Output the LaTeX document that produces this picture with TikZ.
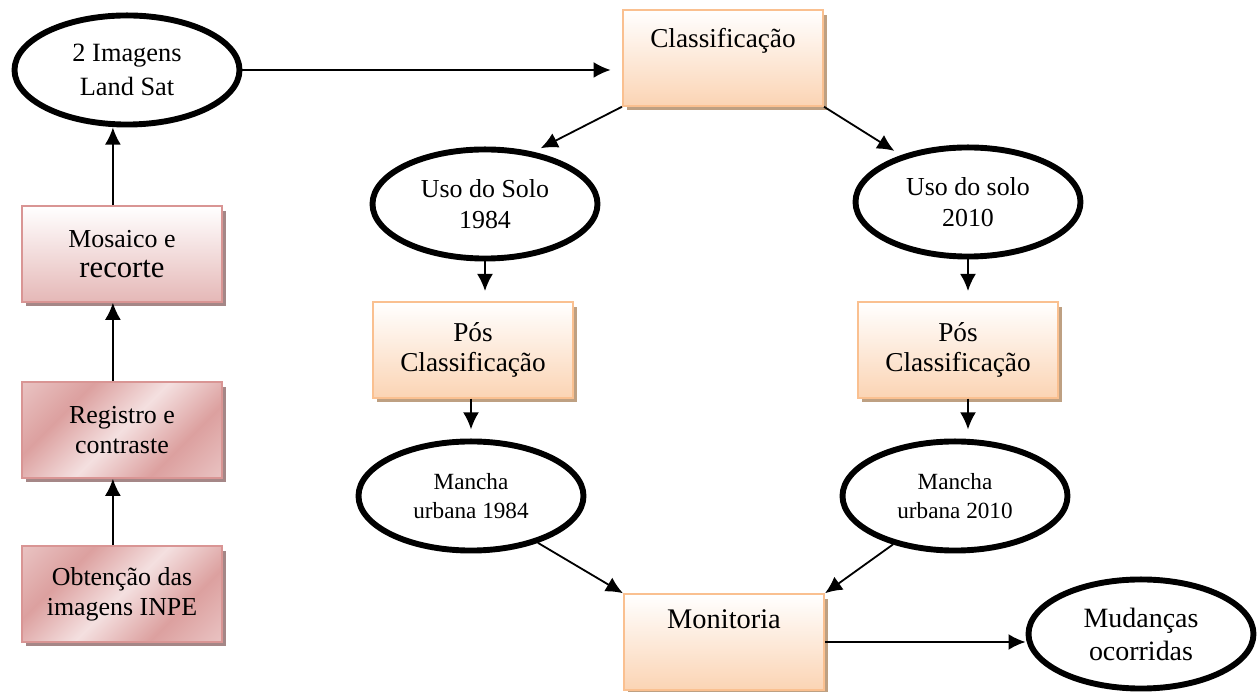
\documentclass[tikz,border=0pt]{standalone}
\usepackage{fontspec}
\setmainfont{Liberation Serif}
\usetikzlibrary{arrows.meta, shapes.geometric, shadows}

\definecolor{pinkline}{RGB}{217,149,148}
\definecolor{pinkdark}{RGB}{220,160,159}
\definecolor{pinklight}{RGB}{244,224,224}
\definecolor{pinkbottom}{RGB}{229,184,183}
\definecolor{orangeline}{RGB}{250,192,144}
\definecolor{orangefill}{RGB}{251,212,180}
\definecolor{pinkshadow}{RGB}{165,135,135}
\definecolor{orangeshadow}{RGB}{190,160,130}

\pgfdeclarehorizontalshading{pinkbands}{100bp}{color(0bp)=(pinklight); color(32bp)=(pinkdark); color(50bp)=(pinklight); color(68bp)=(pinkdark); color(100bp)=(pinklight)}

\tikzset{
    oval/.style={ellipse, draw, line width=2.6pt, fill=white, minimum width=99pt, minimum height=48pt, inner sep=0pt, align=center, font=\fontsize{11.4}{13.8}\selectfont},
    pinkbox/.style={rectangle, draw=pinkline, line width=0.9pt, minimum width=88pt, minimum height=42pt, align=center, font=\fontsize{11.4}{13.2}\selectfont, drop shadow={shadow xshift=1.6pt, shadow yshift=-2pt, fill=pinkshadow, opacity=1}},
    bandbox/.style={pinkbox, shade, shading=pinkbands, shading angle=-45},
    fadebox/.style={pinkbox, top color=white, bottom color=pinkbottom},
    orangebox/.style={rectangle, draw=orangeline, line width=0.9pt, top color=white, bottom color=orangefill, minimum width=88pt, minimum height=42pt, align=center, font=\fontsize{12}{13.2}\selectfont, drop shadow={shadow xshift=1.6pt, shadow yshift=-2pt, fill=orangeshadow, opacity=1}},
    arr/.style={-{Latex[length=7.5pt, width=7pt]}, line width=0.8pt}
}

\begin{document}
\begin{tikzpicture}[x=0.44pt, y=-0.44pt]
    \useasboundingbox (0,0) rectangle (1257,692);

    \node[oval, font=\fontsize{11.6}{15}\selectfont] (land) at (127,70) {2 Imagens\\Land Sat};
    \node[fadebox] (mos) at (122,254) {Mosaico e\\{\fontsize{13.5}{14}\selectfont recorte}};
    \node[bandbox] (reg) at (122,430) {Registro e\\contraste};
    \node[bandbox] (obt) at (122,594) {Obtenção das\\imagens INPE};

    \node[orangebox] (cls) at (723,58) {};
    \node[anchor=north, inner sep=0pt, font=\fontsize{12}{13}\selectfont] (clstext) at ([yshift=-8pt]cls.north) {Classificação};

    \node[oval] (uso84) at (485,204) {Uso do Solo\\1984};
    \node[oval] (uso10) at (968,202) {Uso do solo\\2010};
    \node[orangebox] (pos84) at (473,350) {Pós\\Classificação};
    \node[orangebox] (pos10) at (958,350) {Pós\\Classificação};
    \node[oval, font=\fontsize{10.2}{12.5}\selectfont] (man84) at (471,496) {Mancha\\urbana 1984};
    \node[oval, font=\fontsize{10.2}{12.5}\selectfont] (man10) at (955,496) {Mancha\\urbana 2010};

    \node[orangebox] (mon) at (724,642) {};
    \node[anchor=north, inner sep=0pt, font=\fontsize{12.5}{13}\selectfont] (montext) at ([yshift=-7pt]mon.north) {Monitoria};
    \node[oval, font=\fontsize{12.3}{14.5}\selectfont] (mud) at (1141,634) {Mudanças\\ocorridas};

    \foreach \from/\to in {obt/reg, reg/mos}
        \draw[arr] ([xshift=-4pt]\from.north) -- ([xshift=-4pt]\to.south);
    \draw[arr] ([xshift=-4pt]mos.north) -- ([xshift=-4pt]mos.north |- land.south);
    \draw[arr, shorten >=5pt] (land.east) -- (land.east -| cls.west);

    \draw[arr, shorten >=3.5pt] (cls.south west) -- (uso84.47);
    \draw[arr, shorten >=3.5pt] (cls.south east) -- (uso10.145);
    \draw[arr, shorten >=4.5pt] (uso84.south) -- (uso84.south |- pos84.north);
    \draw[arr, shorten >=4.5pt] (uso10.south) -- (uso10.south |- pos10.north);
    \draw[arr, shorten >=4pt] (pos84.south -| man84.north) -- (man84.north);
    \draw[arr, shorten >=4pt] (pos10.south -| uso10.south) -- (uso10.south |- man10.north);

    \draw[arr] (man84.-35) -- (mon.north west);
    \draw[arr] (man10.218) -- (mon.north east);
    \draw[arr] (mon.east) -- (mon.east -| mud.west);
\end{tikzpicture}
\end{document}
